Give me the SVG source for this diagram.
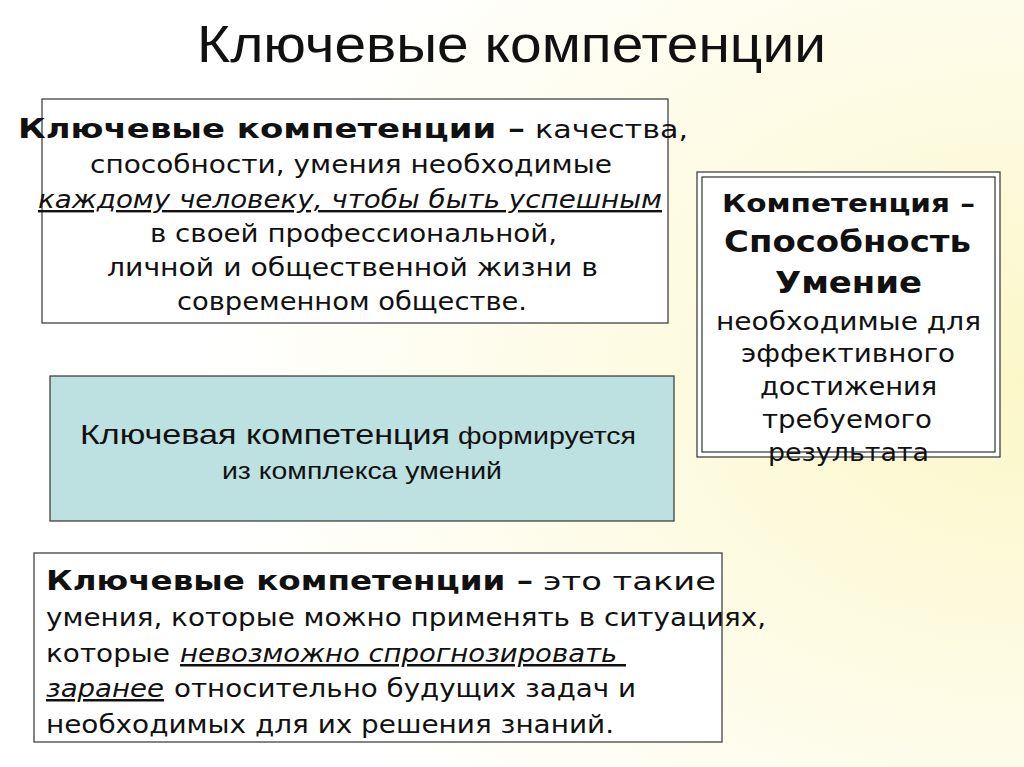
<svg xmlns="http://www.w3.org/2000/svg" width="1024" height="767" viewBox="0 0 1024 767">
<defs>
<radialGradient id="bg" cx="1" cy="0.5" r="0.8">
<stop offset="0" stop-color="#fbf7c8"/><stop offset="1" stop-color="#ffffff"/>
</radialGradient>
<style>
.b{fill:#fff;stroke:#333;stroke-width:1.2}
.t{font-family:"DejaVu Sans",sans-serif;fill:#111}
.bd{font-weight:bold}
.u{font-style:italic;text-decoration:underline}
</style>
</defs>
<rect width="1024" height="767" fill="url(#bg)"/>
<text x="197" y="62" textLength="629" lengthAdjust="spacingAndGlyphs" font-family="Liberation Sans,sans-serif" font-size="52" fill="#111">Ключевые компетенции</text>
<g id="def1">
<rect class="b" x="42" y="99" width="626" height="224"/>
<text class="t" font-size="24" lengthAdjust="spacingAndGlyphs">
<tspan x="18" y="138" class="bd" font-size="26" textLength="507" lengthAdjust="spacingAndGlyphs">Ключевые компетенции –</tspan>
<tspan x="535" y="138" textLength="153" lengthAdjust="spacingAndGlyphs">качества,</tspan>
<tspan x="90" y="173" textLength="522" lengthAdjust="spacingAndGlyphs">способности, умения необходимые</tspan>
<tspan x="38" y="208" class="u" textLength="624" lengthAdjust="spacingAndGlyphs">каждому человеку, чтобы быть успешным</tspan>
<tspan x="150" y="242" textLength="407" lengthAdjust="spacingAndGlyphs">в своей профессиональной,</tspan>
<tspan x="107" y="276" textLength="491" lengthAdjust="spacingAndGlyphs">личной и общественной жизни в</tspan>
<tspan x="177" y="310" textLength="350" lengthAdjust="spacingAndGlyphs">современном обществе.</tspan>
</text>
</g>
<g id="form">
<rect x="50" y="376" width="624" height="145" fill="#bde0e0" stroke="#333" stroke-width="1.2"/>
<text font-family="Liberation Sans,sans-serif" fill="#111">
<tspan x="80" y="444" font-size="28" textLength="370" lengthAdjust="spacingAndGlyphs">Ключевая компетенция</tspan>
<tspan x="458" y="444" font-size="24" textLength="178" lengthAdjust="spacingAndGlyphs">формируется</tspan>
<tspan x="222" y="479" font-size="24" textLength="280" lengthAdjust="spacingAndGlyphs">из комплекса умений</tspan>
</text>
</g>
<g id="comp">
<rect x="697" y="172" width="303" height="285" fill="#fff" stroke="#333" stroke-width="1.2"/>
<rect x="702" y="177" width="293" height="275" fill="none" stroke="#333" stroke-width="1.2"/>
<text class="t" font-size="24">
<tspan x="722" y="212" class="bd" font-size="25" textLength="253" lengthAdjust="spacingAndGlyphs">Компетенция –</tspan>
<tspan x="724" y="252" class="bd" font-size="31" textLength="247" lengthAdjust="spacingAndGlyphs">Способность</tspan>
<tspan x="775" y="293" class="bd" font-size="31" textLength="147" lengthAdjust="spacingAndGlyphs">Умение</tspan>
<tspan x="716" y="330" textLength="265" lengthAdjust="spacingAndGlyphs">необходимые для</tspan>
<tspan x="741" y="362" textLength="214" lengthAdjust="spacingAndGlyphs">эффективного</tspan>
<tspan x="760" y="395" textLength="177" lengthAdjust="spacingAndGlyphs">достижения</tspan>
<tspan x="762" y="428" textLength="170" lengthAdjust="spacingAndGlyphs">требуемого</tspan>
<tspan x="768" y="461" textLength="161" lengthAdjust="spacingAndGlyphs">результата</tspan>
</text>
</g>
<g id="def2">
<rect class="b" x="34" y="553" width="688" height="189"/>
<text class="t" font-size="25">
<tspan x="46" y="590" class="bd" font-size="27" textLength="487" lengthAdjust="spacingAndGlyphs">Ключевые компетенции –</tspan>
<tspan x="543" y="590" textLength="173" lengthAdjust="spacingAndGlyphs">это такие</tspan>
<tspan x="46" y="626" textLength="720" lengthAdjust="spacingAndGlyphs">умения, которые можно применять в ситуациях,</tspan>
<tspan x="46" y="662" textLength="124" lengthAdjust="spacingAndGlyphs">которые</tspan>
<tspan x="180" y="662" class="u" textLength="446" lengthAdjust="spacingAndGlyphs">невозможно спрогнозировать </tspan>
<tspan x="46" y="697" class="u" textLength="118" lengthAdjust="spacingAndGlyphs">заранее</tspan>
<tspan x="174" y="697" textLength="462" lengthAdjust="spacingAndGlyphs">относительно будущих задач и</tspan>
<tspan x="46" y="733" textLength="568" lengthAdjust="spacingAndGlyphs">необходимых для их решения знаний.</tspan>
</text>
</g>
<g id="connectors"/>
</svg>
